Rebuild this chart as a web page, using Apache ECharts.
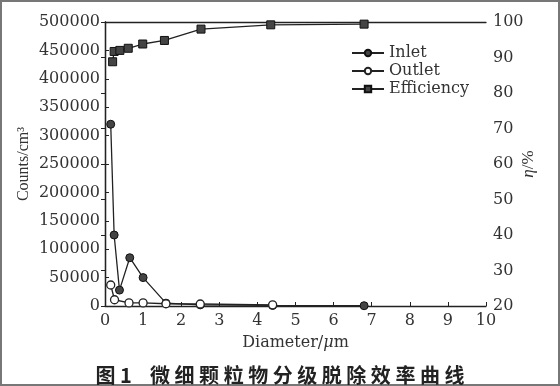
<!DOCTYPE html>
<html>
<head>
<meta charset="utf-8">
<script src="https://cdn.jsdelivr.net/npm/echarts@6/dist/echarts.min.js"></script>
<style>html,body{margin:0;padding:0;background:#fff;}#c{width:560px;height:386px;}</style>
</head>
<body>
<div id="c"></div>
<script>
// Data
const inletX = [0.15, 0.24, 0.38, 0.65, 1.0, 1.6, 2.5, 4.4, 6.8];
const inletY = [320000, 125000, 28000, 85000, 50000, 5000, 2000, 1000, 500];
const outletX = [0.15, 0.25, 0.63, 1.0, 1.6, 2.5, 4.4];
const outletY = [37000, 11000, 5500, 5500, 4000, 3500, 2000];
const effX = [0.2, 0.24, 0.39, 0.61, 0.99, 1.56, 2.52, 4.35, 6.8];
const effY = [88.8, 91.7, 92.0, 92.6, 93.8, 94.8, 98.0, 99.2, 99.4];
const seriesNames = ['Inlet', 'Outlet', 'Efficiency'];
const caption = '图 1    微 细 颗 粒 物 分 级 脱 除 效 率 曲 线';

const pair = (xs, ys) => xs.map((x, i) => [x, ys[i]]);
const serif = 'DejaVu Serif';
const tserif = 'Liberation Serif';
const axisCommon = {
  axisLine: { show: true, lineStyle: { color: '#222', width: 1.3 } },
  axisTick: { show: true, inside: true, length: 4, lineStyle: { color: '#222' } },
  splitLine: { show: false },
  nameMoveOverlap: false
};
const chart = echarts.init(document.getElementById('c'));
chart.setOption({
  animation: false,
  backgroundColor: '#fff',
  grid: { left: 105, right: 74, top: 22, bottom: 80 },
  title: {
    text: caption, left: 'center', top: 360,
    textStyle: { fontFamily: 'Noto Sans CJK SC', fontWeight: 'bold', fontSize: 20, color: '#222' }
  },
  legend: {
    data: seriesNames, orient: 'vertical', left: 346, top: 40,
    itemWidth: 32, itemHeight: 8, itemGap: 2,
    textStyle: { fontFamily: serif, fontSize: 16, color: '#333' }
  },
  xAxis: [
    Object.assign({}, axisCommon, {
      type: 'value', min: 0, max: 10, interval: 1, position: 'bottom',
      axisLabel: { color: '#333', fontFamily: serif, fontSize: 16, margin: 7 },
      name: 'Diameter/{i|μ}m', nameLocation: 'middle', nameGap: 29,
      nameTextStyle: { fontFamily: serif, fontSize: 16, color: '#333',
        rich: { i: { fontFamily: serif, fontStyle: 'italic', fontSize: 16, color: '#333' } } }
    }),
    { type: 'value', min: 0, max: 10, interval: 1, position: 'top',
      axisLine: { show: true, lineStyle: { color: '#222', width: 1.3 } },
      axisTick: { show: false }, axisLabel: { show: false }, splitLine: { show: false } }
  ],
  yAxis: [
    Object.assign({}, axisCommon, {
      type: 'value', min: 0, max: 500000, interval: 50000, position: 'left',
      axisLabel: { color: '#333', fontFamily: serif, fontSize: 16, margin: 5, formatter: v => String(v) },
      name: 'Counts/cm³', nameLocation: 'middle', nameGap: 73, nameRotate: 90,
      nameTextStyle: { fontFamily: tserif, fontSize: 16, color: '#333' }
    }),
    Object.assign({}, axisCommon, {
      type: 'value', min: 20, max: 100, interval: 10, position: 'right',
      axisLabel: { color: '#333', fontFamily: serif, fontSize: 16, margin: 7 },
      name: '{i|η}/%', nameLocation: 'middle', nameGap: 34, nameRotate: 90,
      nameTextStyle: { fontFamily: tserif, fontSize: 17, color: '#333',
        rich: { i: { fontFamily: tserif, fontStyle: 'italic', fontSize: 17, color: '#333' } } }
    })
  ],
  series: [
    { name: seriesNames[0], type: 'line', xAxisIndex: 0, yAxisIndex: 0, data: pair(inletX, inletY),
      symbol: 'circle', symbolSize: 8, lineStyle: { color: '#222', width: 1.3 },
      itemStyle: { color: '#444', borderColor: '#111', borderWidth: 1 } },
    { name: seriesNames[1], type: 'line', xAxisIndex: 0, yAxisIndex: 0, data: pair(outletX, outletY),
      symbol: 'circle', symbolSize: 8, lineStyle: { color: '#222', width: 1.3 },
      itemStyle: { color: '#fff', borderColor: '#222', borderWidth: 1.3 } },
    { name: seriesNames[2], type: 'line', xAxisIndex: 0, yAxisIndex: 1, data: pair(effX, effY),
      symbol: 'rect', symbolSize: 8, lineStyle: { color: '#222', width: 1.3 },
      itemStyle: { color: '#444', borderColor: '#111', borderWidth: 1 } }
  ],
  graphic: [{ type: 'rect', shape: { x: 1, y: 1, width: 558, height: 384 },
    style: { fill: 'none', stroke: '#777', lineWidth: 2 }, silent: true }]
});
</script>
</body>
</html>
